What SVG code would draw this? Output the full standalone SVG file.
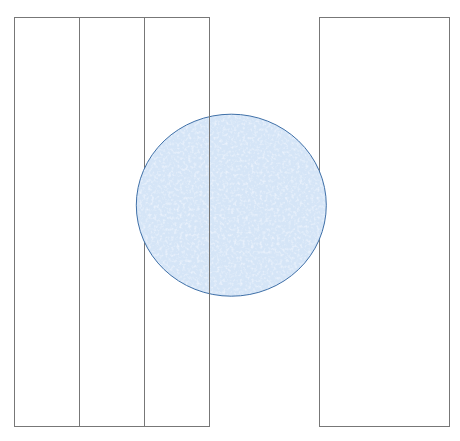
<svg xmlns="http://www.w3.org/2000/svg" width="460" height="441" viewBox="0 0 460 441">
<style>
.col{fill:#ffffff;stroke:#777777;stroke-width:1}
.blob{stroke:#3f70a8;stroke-width:1}
</style>
<defs>
<filter id="tex" x="0" y="0" width="100%" height="100%">
<feTurbulence type="fractalNoise" baseFrequency="0.35" numOctaves="2" seed="3" result="n"/>
<feColorMatrix in="n" type="matrix" values="0 0 0 0 0.93  0 0 0 0 0.95  0 0 0 0 1  0 0 0 1.6 -0.75" result="spk"/>
<feComposite in="spk" in2="SourceGraphic" operator="in" result="s2"/>
<feMerge><feMergeNode in="SourceGraphic"/><feMergeNode in="s2"/></feMerge>
</filter>
</defs>
<rect width="460" height="441" fill="#ffffff"/>
<g id="col1"><rect class="col" x="14.5" y="17.5" width="65" height="409"/></g>
<g id="col2"><rect class="col" x="79.5" y="17.5" width="65" height="409"/></g>
<g id="col3"><rect class="col" x="144.5" y="17.5" width="65" height="409"/></g>
<g id="col4"><rect class="col" x="319.5" y="17.5" width="130" height="409"/></g>
<g id="circle">
<ellipse cx="231.3" cy="205.2" rx="95" ry="91" fill="#d5e5f7" filter="url(#tex)"/>
<ellipse class="blob" cx="231.3" cy="205.2" rx="95" ry="91" fill="none"/>
</g>
<g id="connectors">
<line x1="209.5" y1="114" x2="209.5" y2="297" stroke="#777777" stroke-width="1"/>
</g>
</svg>
